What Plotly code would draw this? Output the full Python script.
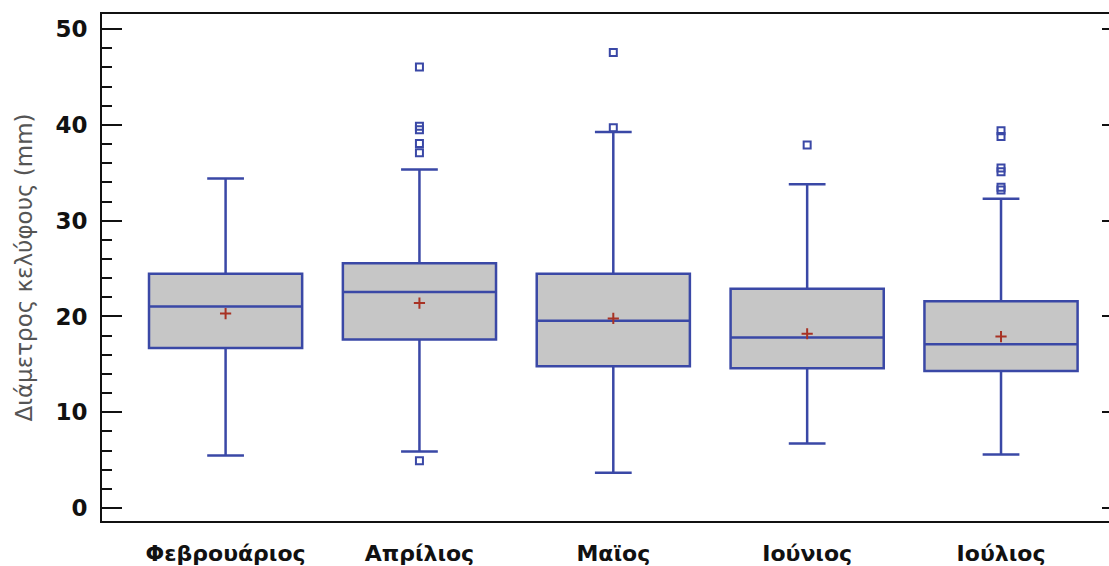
import plotly.graph_objects as go

months = ["Φεβρουάριος", "Απρίλιος", "Μαϊος", "Ιούνιος", "Ιούλιος"]
q1 = [16.7, 17.6, 14.8, 14.6, 14.3]
median = [21.05, 22.55, 19.55, 17.8, 17.1]
q3 = [24.45, 25.55, 24.45, 22.9, 21.6]
lower_whisker = [5.5, 5.9, 3.7, 6.75, 5.6]
upper_whisker = [34.4, 35.35, 39.25, 33.8, 32.3]
means = [20.3, 21.4, 19.8, 18.2, 17.9]

outlier_month = ["Απρίλιος"] * 6 + ["Μαϊος"] * 2 + ["Ιούνιος"] + ["Ιούλιος"] * 6
outlier_value = [46.05, 39.85, 39.5, 38.05, 37.1, 4.95,
                 47.55, 39.7,
                 37.9,
                 39.4, 38.8, 35.5, 35.1, 33.5, 33.2]

y_title = "Διάμετρος κελύφους (mm)"

BLUE = "#3a48a6"
FILL = "#c6c6c6"
RED = "#a83224"

fig = go.Figure()
fig.add_trace(go.Box(
    x=months, q1=q1, median=median, q3=q3,
    lowerfence=lower_whisker, upperfence=upper_whisker,
    fillcolor=FILL, line=dict(color=BLUE, width=2.5),
    width=0.79, whiskerwidth=0.24, boxpoints=False, showlegend=False,
    hoverinfo="skip",
))
fig.add_trace(go.Scatter(
    x=months, y=means, mode="markers",
    marker=dict(symbol="cross-thin", size=8, line=dict(color=RED, width=2)),
    showlegend=False, hoverinfo="skip",
))
fig.add_trace(go.Scatter(
    x=outlier_month, y=outlier_value, mode="markers",
    marker=dict(symbol="square-open", size=7, color=BLUE, line=dict(color=BLUE, width=2)),
    showlegend=False, hoverinfo="skip",
))
fig.add_trace(go.Scatter(x=[months[0]], y=[None], yaxis="y2", showlegend=False, hoverinfo="skip"))

yrange = [-1.35, 51.58]
fig.update_layout(
    width=1109, height=566,
    margin=dict(l=102, r=0, t=14, b=42),
    paper_bgcolor="white", plot_bgcolor="white",
    xaxis=dict(
        type="category", range=[-0.6375, 4.557],
        showline=True, mirror=True, linecolor="#111", linewidth=2,
        showgrid=False, zeroline=False,
        ticks="outside", ticklen=0, ticklabelstandoff=12,
        tickfont=dict(family="DejaVu Sans", size=22, color="#111", weight="bold"),
    ),
    yaxis=dict(
        range=yrange, dtick=10, tick0=0,
        showline=True, mirror=False, linecolor="#111", linewidth=2,
        showgrid=False, zeroline=False,
        ticks="inside", ticklen=20, tickwidth=2, tickcolor="#111",
        minor=dict(dtick=2, ticks="inside", ticklen=10, tickwidth=2, tickcolor="#111", showgrid=False),
        ticklabelstandoff=8,
        tickfont=dict(family="DejaVu Sans", size=23, color="#111", weight="bold"),
        title=dict(text=y_title, standoff=16,
                   font=dict(family="DejaVu Sans", size=23, color="#555")),
    ),
    yaxis2=dict(
        range=yrange, dtick=10, tick0=0, overlaying="y", side="right",
        showline=False, showgrid=False, zeroline=False,
        ticks="inside", ticklen=7, tickwidth=2, tickcolor="#111",
        showticklabels=False,
    ),
)

fig.write_html("out.html", config={"displayModeBar": False},
               post_script="document.body.style.margin='0';document.body.style.overflow='hidden';")
